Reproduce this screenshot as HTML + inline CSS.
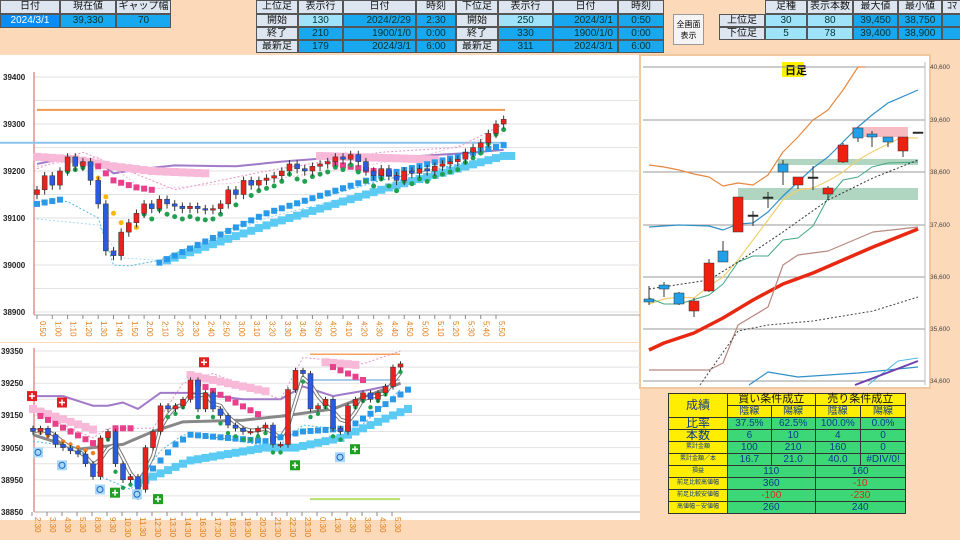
<!DOCTYPE html>
<html><head><meta charset="utf-8">
<style>
body{margin:0;width:960px;height:540px;overflow:hidden;background:#fcd9b8;font-family:"Liberation Sans","Noto Sans CJK JP",sans-serif;position:relative}
.c{position:absolute;box-sizing:border-box;border:1px solid #555;font-size:10px;text-align:center;line-height:12px;white-space:nowrap;overflow:hidden}
.h{background:#dde6f0;color:#111}
.b{background:#17a8f0;color:#033}
.bb{background:#0a8cf5;color:#fff}
.lc{background:#9fe3fb;color:#033}
svg{position:absolute;left:0;top:0}
.t td{border:1px solid #333;text-align:center;font-size:10px;padding:0;height:11px;line-height:11px}
</style></head><body>
<!-- top left -->
<div class="c h" style="left:0;top:0;width:60px;height:14px">日付</div>
<div class="c h" style="left:60px;top:0;width:56px;height:14px">現在値</div>
<div class="c h" style="left:116px;top:0;width:55px;height:14px">ギャップ幅</div>
<div class="c bb" style="left:0;top:14px;width:60px;height:14px">2024/3/1</div>
<div class="c b" style="left:60px;top:14px;width:56px;height:14px">39,330</div>
<div class="c b" style="left:116px;top:14px;width:55px;height:14px">70</div>
<!-- middle -->
<div class="c h" style="left:256px;top:0;width:42px;height:14px">上位足</div>
<div class="c h" style="left:298px;top:0;width:45px;height:14px">表示行</div>
<div class="c h" style="left:343px;top:0;width:73px;height:14px">日付</div>
<div class="c h" style="left:416px;top:0;width:40px;height:14px">時刻</div>
<div class="c h" style="left:456px;top:0;width:42px;height:14px">下位足</div>
<div class="c h" style="left:498px;top:0;width:55px;height:14px">表示行</div>
<div class="c h" style="left:553px;top:0;width:65px;height:14px">日付</div>
<div class="c h" style="left:618px;top:0;width:46px;height:14px">時刻</div>

<div class="c h" style="left:256px;top:14px;width:42px;height:13px">開始</div>
<div class="c lc" style="left:298px;top:14px;width:45px;height:13px">130</div>
<div class="c b" style="left:343px;top:14px;width:73px;height:13px;text-align:right;padding-right:4px">2024/2/29</div>
<div class="c b" style="left:416px;top:14px;width:40px;height:13px">2:30</div>
<div class="c h" style="left:456px;top:14px;width:42px;height:13px">開始</div>
<div class="c lc" style="left:498px;top:14px;width:55px;height:13px">250</div>
<div class="c b" style="left:553px;top:14px;width:65px;height:13px;text-align:right;padding-right:4px">2024/3/1</div>
<div class="c b" style="left:618px;top:14px;width:46px;height:13px">0:50</div>

<div class="c h" style="left:256px;top:27px;width:42px;height:13px">終了</div>
<div class="c b" style="left:298px;top:27px;width:45px;height:13px">210</div>
<div class="c b" style="left:343px;top:27px;width:73px;height:13px;text-align:right;padding-right:4px">1900/1/0</div>
<div class="c b" style="left:416px;top:27px;width:40px;height:13px">0:00</div>
<div class="c h" style="left:456px;top:27px;width:42px;height:13px">終了</div>
<div class="c b" style="left:498px;top:27px;width:55px;height:13px">330</div>
<div class="c b" style="left:553px;top:27px;width:65px;height:13px;text-align:right;padding-right:4px">1900/1/0</div>
<div class="c b" style="left:618px;top:27px;width:46px;height:13px">0:00</div>

<div class="c h" style="left:256px;top:40px;width:42px;height:13px">最新足</div>
<div class="c b" style="left:298px;top:40px;width:45px;height:13px">179</div>
<div class="c b" style="left:343px;top:40px;width:73px;height:13px;text-align:right;padding-right:4px">2024/3/1</div>
<div class="c b" style="left:416px;top:40px;width:40px;height:13px">6:00</div>
<div class="c h" style="left:456px;top:40px;width:42px;height:13px">最新足</div>
<div class="c b" style="left:498px;top:40px;width:55px;height:13px">311</div>
<div class="c b" style="left:553px;top:40px;width:65px;height:13px;text-align:right;padding-right:4px">2024/3/1</div>
<div class="c b" style="left:618px;top:40px;width:46px;height:13px">6:00</div>

<div class="c" style="left:673px;top:14px;width:31px;height:31px;background:#f4f4f4;border-color:#999;font-size:8px;line-height:11px;padding-top:4px;white-space:normal">全画面<br>表示</div>

<div class="c h" style="left:765px;top:0;width:42px;height:14px">足種</div>
<div class="c h" style="left:807px;top:0;width:46px;height:14px">表示本数</div>
<div class="c h" style="left:853px;top:0;width:45px;height:14px">最大値</div>
<div class="c h" style="left:898px;top:0;width:44px;height:14px">最小値</div>
<div class="c h" style="left:942px;top:0;width:20px;height:14px">ｺﾏ</div>
<div class="c h" style="left:719px;top:14px;width:46px;height:13px">上位足</div>
<div class="c lc" style="left:765px;top:14px;width:42px;height:13px">30</div>
<div class="c lc" style="left:807px;top:14px;width:46px;height:13px">80</div>
<div class="c b" style="left:853px;top:14px;width:45px;height:13px">39,450</div>
<div class="c b" style="left:898px;top:14px;width:44px;height:13px">38,750</div>
<div class="c b" style="left:942px;top:14px;width:20px;height:13px"></div>
<div class="c h" style="left:719px;top:27px;width:46px;height:13px">下位足</div>
<div class="c lc" style="left:765px;top:27px;width:42px;height:13px">5</div>
<div class="c lc" style="left:807px;top:27px;width:46px;height:13px">78</div>
<div class="c b" style="left:853px;top:27px;width:45px;height:13px">39,400</div>
<div class="c b" style="left:898px;top:27px;width:44px;height:13px">38,900</div>
<div class="c b" style="left:942px;top:27px;width:20px;height:13px"></div>

<svg id="s" width="960" height="540" style="top:0">
<rect x="0" y="55" width="640" height="287" fill="#fff"/>
<rect x="0" y="343" width="640" height="177" fill="#fff"/>
<rect x="640" y="55" width="290" height="333" fill="#fff" stroke="#f0c8a0" stroke-width="2"/>
<g font-size="8" fill="#222" font-weight="bold">
<text x="3" y="80">39400</text><text x="3" y="127">39300</text><text x="3" y="174">39200</text><text x="3" y="221">39100</text><text x="3" y="268">39000</text><text x="3" y="315">38900</text>
<text x="1" y="354">39350</text><text x="1" y="386">39250</text><text x="1" y="418">39150</text><text x="1" y="451">39050</text><text x="1" y="483">38950</text><text x="1" y="515">38850</text>
</g>
<g font-size="6.5" fill="#444">
<text x="930" y="69">40,600</text><text x="930" y="122">39,600</text><text x="930" y="174">38,600</text><text x="930" y="227">37,600</text><text x="930" y="279">36,600</text><text x="930" y="331">35,600</text><text x="930" y="383">34,600</text>
</g>
<g id="xl1" font-size="8" fill="#e07a10"></g>
<g id="xl2" font-size="8" fill="#e07a10"></g>
<rect x="782" y="62" width="22" height="15" fill="#ffef00"/>
<text x="785" y="74" font-size="11" font-weight="bold" fill="#111">日足</text>
<g id="g"></g>
</svg>

<table class="t" style="position:absolute;left:668px;top:393px;width:238px;border-collapse:collapse;background:#3cd878;color:#0a3a8a">
<tr><td rowspan="2" style="background:#ffee00;color:#1a3a8a;font-size:12px;width:58px">成績</td><td colspan="2" style="background:#ffee00;color:#111;font-size:11px">買い条件成立</td><td colspan="2" style="background:#ffee00;color:#111;font-size:11px">売り条件成立</td></tr>
<tr><td style="background:#ffee00">陰線</td><td style="background:#ffee00">陽線</td><td style="background:#ffee00">陰線</td><td style="background:#ffee00">陽線</td></tr>
<tr><td style="background:#ffee00;font-size:12px">比率</td><td>37.5%</td><td>62.5%</td><td>100.0%</td><td>0.0%</td></tr>
<tr><td style="background:#ffee00;font-size:12px">本数</td><td>6</td><td>10</td><td>4</td><td>0</td></tr>
<tr><td style="background:#ffee00;font-size:6px">累計金額</td><td>100</td><td>210</td><td>160</td><td>0</td></tr>
<tr><td style="background:#ffee00;font-size:6px">累計金額／本</td><td>16.7</td><td>21.0</td><td>40.0</td><td>#DIV/0!</td></tr>
<tr><td style="background:#ffee00;font-size:6px">損益</td><td colspan="2">110</td><td colspan="2">160</td></tr>
<tr><td style="background:#ffee00;font-size:6px">前足比較高値幅</td><td colspan="2">360</td><td colspan="2" style="color:#d03010">-10</td></tr>
<tr><td style="background:#ffee00;font-size:6px">前足比較安値幅</td><td colspan="2" style="color:#d03010">-100</td><td colspan="2" style="color:#d03010">-230</td></tr>
<tr><td style="background:#ffee00;font-size:6px">高値幅－安値幅</td><td colspan="2">260</td><td colspan="2">240</td></tr>
</table>

<script>
var NS="http://www.w3.org/2000/svg",G=document.getElementById('g');
function el(t,a,p){var e=document.createElementNS(NS,t);for(var k in a)e.setAttribute(k,a[k]);(p||G).appendChild(e);return e}
function line(x1,y1,x2,y2,c,w,d){el('line',{x1:x1,y1:y1,x2:x2,y2:y2,stroke:c,'stroke-width':w||1,'stroke-dasharray':d||''})}
function poly(pts,c,w,d){el('polyline',{points:pts.map(p=>p.join(',')).join(' '),fill:'none',stroke:c,'stroke-width':w||1,'stroke-dasharray':d||'','stroke-linejoin':'round'})}
function interp(keys,i){for(var k=0;k<keys.length-1;k++){if(i<=keys[k+1][0]){var a=keys[k],b=keys[k+1];return a[1]+(b[1]-a[1])*(i-a[0])/(b[0]-a[0]);}}return keys[keys.length-1][1]}
// ---------- chart 1 ----------
var Y1=v=>77+(39400-v)*0.47, X1=i=>37+i*7.65;
for(var v=38900;v<=39400;v+=50)line(34,Y1(v),640,Y1(v),'#e2e2e2',1);
line(34,72,34,315,'#e05050',1);line(34,315,640,315,'#aaa',1);
var lab1=["0:50","1:00","1:10","1:20","1:30","1:40","1:50","2:00","2:10","2:20","2:30","2:40","2:50","3:00","3:10","3:20","3:30","3:40","3:50","4:00","4:10","4:20","4:30","4:40","4:50","5:00","5:10","5:20","5:30","5:40","5:50"];
lab1.forEach((s,k)=>{var x=37+k*15.3;line(x,315,x,319,'#888',1);var t=el('text',{x:0,y:0,transform:'translate('+(x+3)+',321) rotate(90)'},document.getElementById('xl1'));t.textContent=s;});
line(37,Y1(39330),505,Y1(39330),'#f39a50',2);
line(0,Y1(39260),505,Y1(39260),'#8cc4f0',2);
var C=[39160,39190,39170,39200,39230,39210,39220,39180,39130,39030,39020,39070,39090,39110,39130,39120,39140,39130,39125,39120,39125,39120,39118,39120,39130,39160,39150,39180,39170,39180,39185,39190,39200,39215,39205,39200,39210,39215,39220,39230,39225,39235,39220,39200,39190,39205,39190,39180,39200,39195,39205,39200,39210,39215,39220,39225,39240,39250,39260,39280,39300,39310];
// purple
var pp=[];for(var i=0;i<62;i++)pp.push([X1(i),Y1(interp([[0,39215],[4,39228],[8,39220],[10,39195],[14,39205],[18,39212],[26,39210],[32,39220],[40,39230],[50,39232],[56,39238],[61,39245]],i))]);
poly(pp,'#a07ac8',2);
// pink dotted
var pk=[];for(i=0;i<62;i++)pk.push([X1(i),Y1(interp([[0,39205],[6,39240],[12,39200],[18,39160],[30,39200],[45,39240],[55,39250],[61,39300]],i))]);poly(pk,'#e890c0',1,'2,2');
var pk2=[];for(i=0;i<62;i++)pk2.push([X1(i),Y1(interp([[0,39210],[8,39230],[14,39160],[30,39180],[50,39230],[61,39280]],i))]);poly(pk2,'#f5c0dc',1,'2,2');
// light blue dotted
var lb=[];for(i=0;i<62;i++)lb.push([X1(i),Y1(interp([[0,39135],[4,39135],[8,39100],[10,39000],[12,38998],[16,39010],[30,39110],[45,39180],[61,39235]],i))]);poly(lb,'#50b8e0',1,'2,2');
var lb2=[];for(i=0;i<62;i++)lb2.push([X1(i),Y1(interp([[0,39098],[8,39085],[11,39015],[16,39010],[30,39100],[61,39230]],i))]);poly(lb2,'#a8dcf0',1,'2,2');
// squares
for(i=0;i<62;i++){
 if(i<23){var v1=interp([[0,39230],[5,39225],[10,39210],[15,39200],[22,39195]],i);el('rect',{x:X1(i)-4,y:Y1(v1)-4,width:8,height:8,fill:'#f8b8d8'});}
 if(i>=37&&i<=52){el('rect',{x:X1(i)-4,y:Y1(39232-(i-37)*0.5)-4,width:8,height:8,fill:'#f8b8d8'});}
 if(i>=8&&i<=15){el('rect',{x:X1(i)-3,y:Y1(interp([[8,39210],[10,39180],[13,39165],[15,39160]],i))-3,width:6,height:6,fill:'#e8408a'});}
 if(i>=39&&i<=48){el('rect',{x:X1(i)-3,y:Y1(39215-(i-39)*3)-3,width:6,height:6,fill:'#e8408a'});}
 if(i<4)el('rect',{x:X1(i)-3,y:Y1(39130+i*3)-3,width:6,height:6,fill:'#2a9ae8'});
 if(i>=16){el('rect',{x:X1(i)-3,y:Y1(interp([[16,39005],[30,39110],[45,39190],[61,39255]],i))-3,width:6,height:6,fill:'#2a9ae8'});
  el('rect',{x:X1(i+1)-4,y:Y1(interp([[16,39010],[30,39090],[45,39165],[60,39232]],i))-4,width:8,height:8,fill:'#5ccbf4'});}
 if(i>=8&&i<=13)el('circle',{cx:X1(i),cy:Y1([39185,39145,39110,39090,39082,39080][i-8]),r:2.5,fill:'#f8b800'});
 if(i>=3&&i<=7)el('circle',{cx:X1(i),cy:Y1(39195+(i-3)*4),r:2.5,fill:'#20a050'});
 if(i>=14&&i<=61)el('circle',{cx:X1(i),cy:Y1(C[i]-22),r:2.5,fill:'#20a050'});
}
function candles(arr,X,Y,w,seed){var prev=arr[0]+(seed||10);arr.forEach((c,i)=>{var o=prev,x=X(i),hi=Math.max(o,c),lo=Math.min(o,c);var up=c>=o;
 line(x,Y(hi+8),x,Y(lo-10),'#333',1);
 var h=Math.max(1.5,Y(lo)-Y(hi));el('rect',{x:x-w/2,y:Y(hi),width:w,height:h,fill:up?'#e8221c':'#2a5ae0',stroke:'#333','stroke-width':0.5});prev=c;});}
candles(C,X1,Y1,5,-10);
// ---------- chart 2 ----------
var Y2=v=>351+(39350-v)*0.322, X2=i=>33+i*7.5;
for(v=38850;v<=39350;v+=50)line(34,Y2(v),640,Y2(v),'#e2e2e2',1);
line(34,348,34,512,'#e05050',1);line(34,512,640,512,'#aaa',1);
var lab2=["2:30","3:30","4:30","5:30","8:30","9:30","10:30","11:30","12:30","13:30","14:30","16:30","17:30","18:30","19:30","20:30","21:30","22:30","23:30","0:30","1:30","2:30","3:30","4:30","5:30"];
lab2.forEach((s,k)=>{var x=32+k*15;line(x,512,x,516,'#888',1);var t=el('text',{x:0,y:0,transform:'translate('+(x+3)+',517) rotate(90)'},document.getElementById('xl2'));t.textContent=s;});
var D=[39100,39110,39090,39060,39050,39040,39030,39000,38960,39080,39100,39000,38950,38960,38920,39050,39100,39180,39170,39180,39200,39260,39170,39220,39170,39150,39120,39110,39100,39100,39110,39120,39060,39060,39230,39290,39280,39170,39180,39200,39110,39100,39180,39200,39220,39200,39220,39240,39300,39310];
line(310,Y2(39340),400,Y2(39340),'#f3a060',1.5);line(310,Y2(38890),400,Y2(38890),'#b8e070',2);line(310,Y2(39260),400,Y2(39260),'#a8cce8',2);
var pu=[];for(i=0;i<50;i++)pu.push([X2(i),Y2(interp([[0,39210],[4,39210],[8,39180],[10,39180],[12,39190],[14,39170],[17,39220],[21,39220],[28,39200],[33,39200],[36,39240],[40,39210],[45,39230],[49,39250]],i))]);poly(pu,'#a07ac8',2);
var gm=[];for(i=0;i<50;i++)gm.push([X2(i),Y2(interp([[0,39090],[6,39045],[12,39060],[16,39100],[20,39130],[28,39135],[34,39150],[40,39170],[49,39250]],i))]);poly(gm,'#888',3);
var sm=[];for(i=0;i<50;i++){var a=0,n=0;for(var j=Math.max(0,i-2);j<=i;j++){a+=D[j];n++;}sm.push([X2(i),Y2(a/n)]);}
poly(sm,'#777',4);poly(sm,'#fff',2);
var pk3=[];for(i=0;i<50;i++)pk3.push([X2(i),Y2(interp([[0,39160],[8,39080],[10,39110],[16,39110],[20,39250],[24,39280],[33,39200],[36,39330],[44,39310],[49,39350]],i))]);poly(pk3,'#e890c0',1,'2,2');
var lb3=[];for(i=0;i<50;i++)lb3.push([X2(i),Y2(interp([[0,39070],[6,39050],[9,38960],[13,38920],[17,39040],[20,39090],[25,39080],[30,39060],[33,39060],[36,39120],[40,39110],[42,39080],[49,39230]],i))]);poly(lb3,'#50b8e0',1,'2,2');
for(i=0;i<50;i++){
 if(i<9)el('rect',{x:X2(i)-4,y:Y2(39170-i*8)-4,width:8,height:8,fill:'#f8b8d8'});
 if(i>=21&&i<=31)el('rect',{x:X2(i)-4,y:Y2(39275-(i-21)*5)-4,width:8,height:8,fill:'#f8b8d8'});
 if(i>=39&&i<=43)el('rect',{x:X2(i)-4,y:Y2(39315-(i-39)*2)-4,width:8,height:8,fill:'#f8b8d8'});
 if(i<10&&i>0)el('rect',{x:X2(i)-3,y:Y2(39160-i*12)-3,width:6,height:6,fill:'#e8408a'});
 if(i>=11&&i<=13)el('rect',{x:X2(i)-3,y:Y2(39110)-3,width:6,height:6,fill:'#e8408a'});
 if(i>=22&&i<=30)el('rect',{x:X2(i)-3,y:Y2(39250-(i-22)*12)-3,width:6,height:6,fill:'#e8408a'});
 if(i>=40&&i<=44)el('rect',{x:X2(i)-3,y:Y2(39300-(i-40)*10)-3,width:6,height:6,fill:'#e8408a'});
 if(i>=14)el('rect',{x:X2(i+1)-3,y:Y2(interp([[14,38960],[18,39060],[20,39090],[30,39070],[35,39100],[41,39110],[49,39230]],i))-3,width:6,height:6,fill:'#2a9ae8'});
 if(i>=13)el('rect',{x:X2(i+1)-4,y:Y2(interp([[13,38940],[20,39010],[30,39050],[34,39050],[40,39080],[49,39170]],i))-4,width:8,height:8,fill:'#5ccbf4'});
 if(i<10)el('circle',{cx:X2(i),cy:Y2(39105-i*9),r:2.2,fill:'#f08020'});
 if(i>=10)el('circle',{cx:X2(i),cy:Y2(D[i]-25),r:2.2,fill:'#20a050'});
}
candles(D,X2,Y2,5,0);
[[32,39210,'#e02020'],[62,39190,'#e02020'],[204,39315,'#e02020'],[115,38910,'#20a020'],[158,38890,'#20a020'],[295,38995,'#20a020'],[355,39045,'#20a020']].forEach(m=>{el('rect',{x:m[0]-5,y:Y2(m[1])-5,width:10,height:10,fill:m[2]});line(m[0]-3,Y2(m[1]),m[0]+3,Y2(m[1]),'#fff',1.5);line(m[0],Y2(m[1])-3,m[0],Y2(m[1])+3,'#fff',1.5);});
[[38,39035],[62,38995],[100,38920],[137,38905],[340,39020]].forEach(m=>{el('rect',{x:m[0]-5,y:Y2(m[1])-5,width:10,height:10,fill:'#a8d8f8'});el('circle',{cx:m[0],cy:Y2(m[1]),r:3,fill:'none',stroke:'#1a60c0'});});
// ---------- right chart ----------
[67,120,172,225,277,329,381].forEach(y=>line(643,y,925,y,'#999',1));
line(925,62,925,385,'#bbb',1);
el('rect',{x:738,y:188,width:180,height:12,fill:'#8fc4a8',opacity:0.7});
el('rect',{x:778,y:159,width:140,height:6,fill:'#8fc4a8',opacity:0.7});
el('rect',{x:852,y:127,width:56,height:10,fill:'#f4a0a8',opacity:0.7});
poly([[649,165],[664,167],[679,170],[694,174],[709,177],[723,186],[738,183],[753,185],[768,175],[783,152],[798,137],[813,120],[828,110],[843,90],[858,67],[865,67]],'#e88840',1.2);
poly([[649,227],[679,225],[709,226],[723,230],[738,224],[753,223],[768,212],[783,196],[798,182],[813,168],[828,157],[843,142],[858,127],[872,115],[888,103],[918,90]],'#3090c8',1.2);
poly([[649,304],[664,299],[679,297],[694,298],[709,286],[723,277],[738,260],[753,240],[768,220],[783,200],[798,190],[813,188],[828,181],[843,172],[858,160],[872,152],[888,144],[900,138],[918,138]],'#f0d070',1.2);
poly([[649,298],[664,304],[679,304],[709,295],[723,284],[738,262],[753,256],[768,256],[783,240],[798,238],[813,226],[828,198],[843,180],[858,177],[872,167],[888,163],[918,162]],'#40a880',1);
poly([[649,289],[709,280],[738,262],[783,232],[828,200],[873,178],[918,160]],'#333',1,'2,2');
poly([[649,350],[664,343],[694,333],[723,318],[753,300],[783,284],[813,273],[843,260],[873,247],[918,229]],'#e82810',3.5);
poly([[649,370],[709,370],[723,363],[738,325],[768,307],[783,265],[798,255],[828,251],[873,232],[918,227]],'#b88880',1.2);
poly([[700,385],[738,331],[768,325],[813,321],[873,311],[918,297]],'#444',1,'2,2');
poly([[749,385],[768,372],[798,377],[828,375],[858,373],[918,367]],'#3090c8',1.2);
poly([[868,385],[898,361],[918,358]],'#50b8e8',1);
poly([[855,385],[918,361]],'#7040b0',2);
[[649,299,302,286,305,'b'],[664,285,289,282,297,'b'],[679,293,304,292,305,'b'],[694,301,311,298,317,'r'],[709,263,291,259,292,'r'],[723,251,262,241,262,'b'],[738,197,232,197,232,'r'],[753,215,216,211,226,'k'],[768,197,198,192,208,'k'],[783,164,172,160,185,'b'],[798,177,185,177,189,'r'],[813,177,178,166,190,'k'],[828,188,194,186,200,'r'],[843,145,162,143,163,'r'],[858,128,138,127,142,'b'],[872,134,137,131,147,'b'],[888,137,142,137,147,'b'],[903,137,151,137,157,'r'],[918,132,133,132,133,'k']].forEach(c=>{line(c[0],c[3],c[0],c[4],'#333',1);el('rect',{x:c[0]-5,y:c[1],width:10,height:Math.max(1.5,c[2]-c[1]),fill:c[5]=='r'?'#f02010':c[5]=='b'?'#20a0e8':'#222',stroke:'#333','stroke-width':0.5});});
</script>
</body></html>
